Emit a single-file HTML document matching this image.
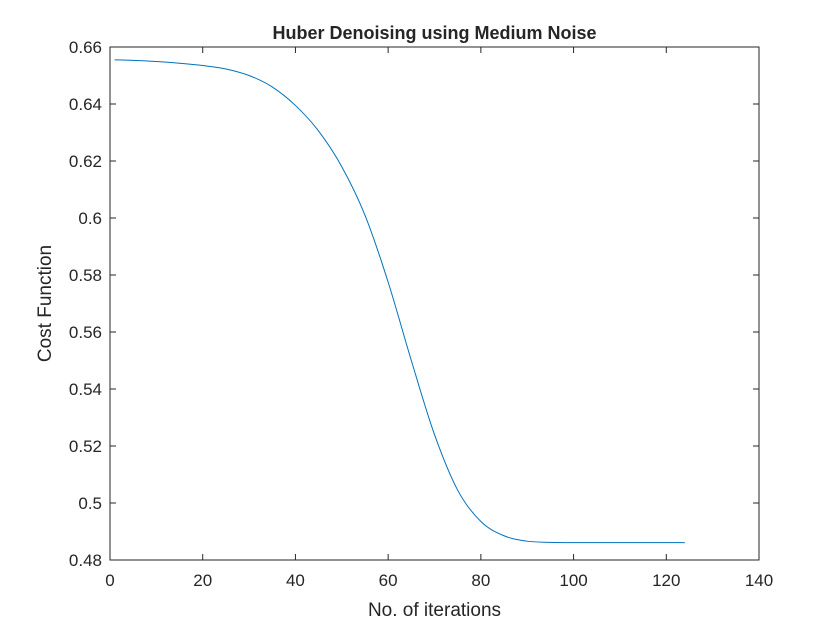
<!DOCTYPE html>
<html><head><meta charset="utf-8"><style>
body{margin:0;background:#fff}
svg text{font-family:"Liberation Sans",Arial,sans-serif;fill:#262626}
</style></head><body>
<svg id="chart" width="840" height="630">
<rect width="840" height="630" fill="#fff"/>
<g id="g"></g>
</svg>
<script>
const iterations=[1,5,10,15,20,25,30,35,40,45,50,55,60,65,70,75,80,85,90,95,100,110,124];
const cost=[0.6555,0.6553,0.6549,0.6543,0.6535,0.6523,0.6500,0.6460,0.6395,0.6305,0.6180,0.6010,0.5775,0.5500,0.5240,0.5045,0.4935,0.4885,0.4866,0.4862,0.4861,0.4861,0.4861];
const xTicks=[0,20,40,60,80,100,120,140];
const yTicks=[0.48,0.5,0.52,0.54,0.56,0.58,0.6,0.62,0.64,0.66];
const yLabels=["0.48","0.5","0.52","0.54","0.56","0.58","0.6","0.62","0.64","0.66"];
const L=110,R=759,T=47,B=560;
const xs=v=>L+(v-0)/(140-0)*(R-L);
const ys=v=>B-(v-0.48)/(0.66-0.48)*(B-T);
const NS="http://www.w3.org/2000/svg";
const g=document.getElementById('g');
function mk(t,a,txt){const e=document.createElementNS(NS,t);for(const k in a)e.setAttribute(k,a[k]);if(txt!==undefined)e.textContent=txt;g.appendChild(e);return e;}
const box=mk('rect',{x:L,y:T,width:R-L,height:B-T,fill:'none',stroke:'#262626','stroke-width':1});


xTicks.forEach(v=>{const x=xs(v);
const t1=mk('line',{x1:x,x2:x,y1:B,y2:B-6,stroke:'#262626'});


const t2=mk('line',{x1:x,x2:x,y1:T,y2:T+6,stroke:'#262626'});


const l=mk('text',{x:x,y:B+26,'text-anchor':'middle','font-size':17},String(v));

});
yTicks.forEach((v,i)=>{const y=ys(v);
const t1=mk('line',{x1:L,x2:L+6,y1:y,y2:y,stroke:'#262626'});


const t2=mk('line',{x1:R,x2:R-6,y1:y,y2:y,stroke:'#262626'});


const l=mk('text',{x:L-8,y:y+6,'text-anchor':'end','font-size':17},yLabels[i]);

});
const P=iterations.map((v,i)=>[xs(v),ys(cost[i])]);
let d='M'+P[0][0].toFixed(2)+','+P[0][1].toFixed(2);
for(let i=0;i<P.length-1;i++){
  const p0=P[Math.max(0,i-1)],p1=P[i],p2=P[i+1],p3=P[Math.min(P.length-1,i+2)];
  const c1=[p1[0]+(p2[0]-p0[0])/6,p1[1]+(p2[1]-p0[1])/6];
  const c2=[p2[0]-(p3[0]-p1[0])/6,p2[1]-(p3[1]-p1[1])/6];
  d+=' C'+c1.map(n=>n.toFixed(2)).join(',')+' '+c2.map(n=>n.toFixed(2)).join(',')+' '+p2[0].toFixed(2)+','+p2[1].toFixed(2);
}
const p=mk('path',{d:d,fill:'none',stroke:'#0072bd','stroke-width':1,'stroke-linejoin':'round'});


const tt=mk('text',{x:(L+R)/2,y:39,'text-anchor':'middle','font-size':18,'font-weight':'bold',fill:'#000'},'Huber Denoising using Medium Noise');


const xt=mk('text',{x:(L+R)/2,y:616,'text-anchor':'middle','font-size':19},'No. of iterations');


const yt=mk('text',{x:0,y:0,'text-anchor':'middle','font-size':19,transform:'translate(51,'+((T+B)/2)+') rotate(-90)'},'Cost Function');


</script>
</body></html>
